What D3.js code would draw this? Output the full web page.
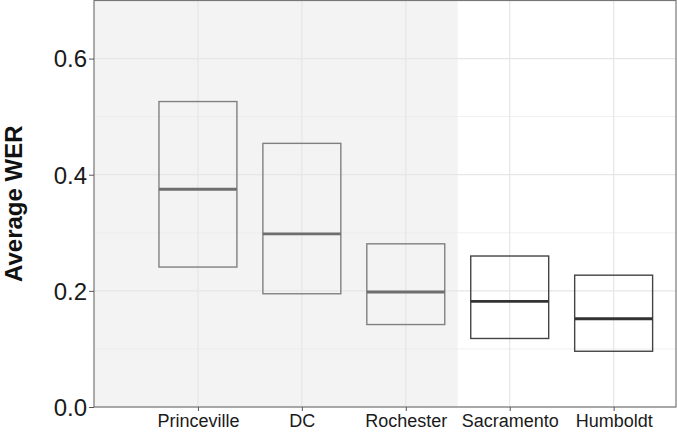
<!DOCTYPE html>
<html>
<head>
<meta charset="utf-8">
<script src="https://cdn.jsdelivr.net/npm/d3@7"></script>
<style>
  body { margin: 0; background: #fff; }
  text { font-family: "Liberation Sans", Arial, sans-serif; }
</style>
</head>
<body>
<div id="container"></div>
<script>
      //Data
      var cities = ["Princeville", "DC", "Rochester", "Sacramento", "Humboldt"];
      var lower  = [0.241, 0.195, 0.142, 0.118, 0.096];
      var middle = [0.375, 0.298, 0.198, 0.182, 0.152];
      var upper  = [0.526, 0.454, 0.281, 0.260, 0.227];
      var yTicks = [0, 0.2, 0.4, 0.6];
      var yMinor = [0.1, 0.3, 0.5];
      var shadedCount = 3;

      //Width and height
      var w = 677;
      var h = 433;
      var padL = 94, padR = 676, padT = 0.5, padB = 407;

      //Scales - numeric x so the shade can start at 0 like the original
      var x = d3.scaleLinear().domain([0, cities.length + 0.6]).range([padL, padR]);
      var y = d3.scaleLinear().domain([0, 0.7]).range([padB, padT]);
      var boxW = 0.75;

      var svg = d3.select("#container")
            .append("svg")
            .attr("width", w)
            .attr("height", h);

      //Shaded region behind the first three cities
      svg.append("rect")
        .attr("x", x(0))
        .attr("y", padT)
        .attr("width", x(shadedCount + 0.5) - x(0))
        .attr("height", padB - padT)
        .attr("fill", "#f3f3f3");

      //Grid
      var grid = svg.append("g");
      grid.selectAll("line.minor")
        .data(yMinor)
        .enter().append("line")
        .attr("x1", padL).attr("x2", padR)
        .attr("y1", function(d){ return y(d); })
        .attr("y2", function(d){ return y(d); })
        .attr("stroke", "#ebebeb").attr("stroke-width", 0.8);
      grid.selectAll("line.major")
        .data(yTicks)
        .enter().append("line")
        .attr("x1", padL).attr("x2", padR)
        .attr("y1", function(d){ return y(d); })
        .attr("y2", function(d){ return y(d); })
        .attr("stroke", "#e6e6e6").attr("stroke-width", 1.2);
      grid.selectAll("line.vert")
        .data(cities)
        .enter().append("line")
        .attr("x1", function(d, i){ return x(i + 1); })
        .attr("x2", function(d, i){ return x(i + 1); })
        .attr("y1", padT).attr("y2", padB)
        .attr("stroke", "#e6e6e6").attr("stroke-width", 1.2);

      //Crossbars
      var boxes = svg.selectAll("g.box")
        .data(cities)
        .enter().append("g");

      boxes.append("rect")
        .attr("x", function(d, i){ return x(i + 1 - boxW / 2); })
        .attr("y", function(d, i){ return y(upper[i]); })
        .attr("width", x(boxW) - x(0))
        .attr("height", function(d, i){ return y(lower[i]) - y(upper[i]); })
        .attr("fill", "none")
        .attr("stroke", function(d, i){ return i < shadedCount ? "#808080" : "#444"; })
        .attr("stroke-width", 1.4);

      boxes.append("line")
        .attr("x1", function(d, i){ return x(i + 1 - boxW / 2); })
        .attr("x2", function(d, i){ return x(i + 1 + boxW / 2); })
        .attr("y1", function(d, i){ return y(middle[i]); })
        .attr("y2", function(d, i){ return y(middle[i]); })
        .attr("stroke", function(d, i){ return i < shadedCount ? "#6e6e6e" : "#333"; })
        .attr("stroke-width", 2.8);

      //Panel border
      svg.append("rect")
        .attr("x", padL).attr("y", padT)
        .attr("width", padR - padL).attr("height", padB - padT)
        .attr("fill", "none")
        .attr("stroke", "#777").attr("stroke-width", 1.2);

      //Axes
      var yAxis = d3.axisLeft(y)
        .tickValues(yTicks)
        .tickFormat(d3.format(".1f"))
        .tickSize(5).tickPadding(2);
      var gy = svg.append("g")
        .attr("transform", "translate(" + padL + ",0)")
        .call(yAxis);
      gy.select(".domain").remove();
      gy.selectAll("line").attr("stroke", "#555");
      gy.selectAll("text")
        .attr("font-size", 24)
        .attr("fill", "#1a1a1a")
        .attr("dy", "0.35em");

      var xAxis = d3.axisBottom(x)
        .tickValues(d3.range(1, cities.length + 1))
        .tickFormat(function(d){ return cities[d - 1]; })
        .tickSize(4).tickPadding(3);
      var gx = svg.append("g")
        .attr("transform", "translate(0," + padB + ")")
        .call(xAxis);
      gx.select(".domain").remove();
      gx.selectAll("line").attr("stroke", "#555");
      gx.selectAll("text")
        .attr("font-size", 18)
        .attr("fill", "#1a1a1a");

      //Y axis title
      svg.append("text")
        .attr("transform", "translate(22," + ((padT + padB) / 2) + ") rotate(-90)")
        .attr("text-anchor", "middle")
        .attr("font-size", 24)
        .attr("font-weight", "bold")
        .attr("fill", "#111")
        .text("Average WER");
</script>
</body>
</html>
